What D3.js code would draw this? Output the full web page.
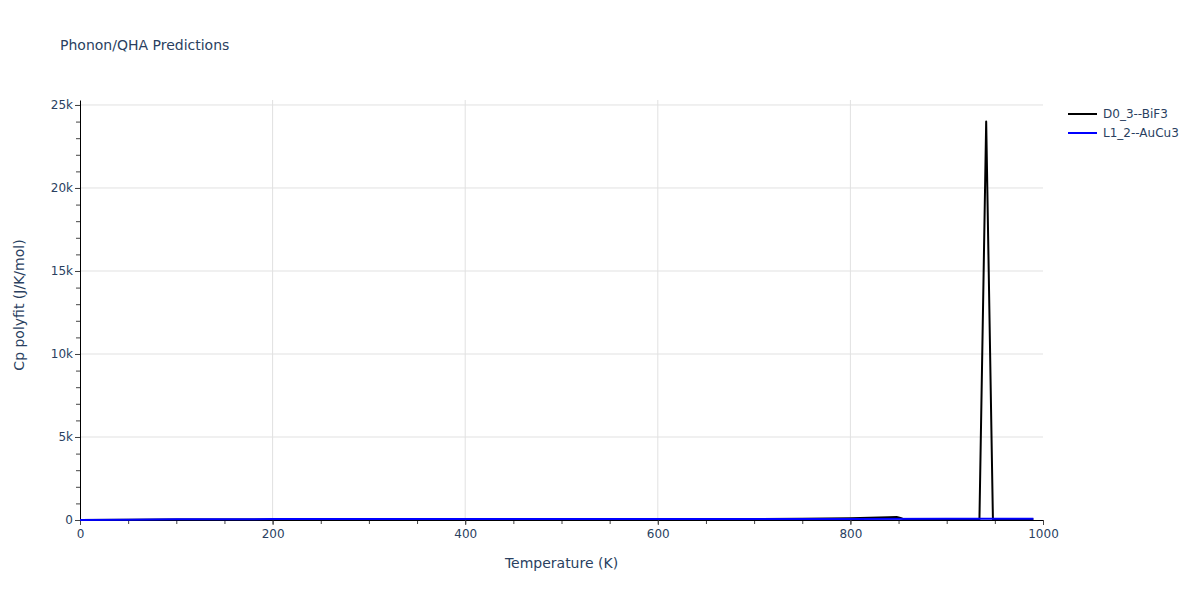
<!DOCTYPE html>
<html>
  <head>
    <meta charset="utf-8" />
    <title>Phonon/QHA Predictions</title>
    <script src="https://d3js.org/d3.v7.min.js"></script>
    <style>
      body {
        margin: 0;
        background: #fff;
      }
      text {
        font-family: "DejaVu Sans", sans-serif;
        fill: #2a3f5f;
      }
    </style>
  </head>
  <body>

    <svg id="chart"></svg>

    <script>

      // temperature grid (K) and Cp values
      var bif3Temp = [0, 50, 100, 200, 300, 400, 500, 600, 700, 750, 800, 820, 840, 848, 852, 856, 900, 934, 941, 948, 990];
      var bif3Cp   = [0, 15, 25, 35, 40, 45, 48, 50, 55, 70, 110, 140, 170, 175, 120, 40, 40, 40, 24000, 40, 40];

      var aucu3Temp = [0, 50, 100, 200, 300, 400, 500, 600, 700, 800, 900, 990];
      var aucu3Cp   = [0, 20, 40, 55, 60, 62, 64, 65, 66, 67, 68, 69];

      var seriesNames  = ["D0_3--BiF3", "L1_2--AuCu3"];
      var seriesColors = ["#000000", "#0000ff"];

      var xTicks = [0, 200, 400, 600, 800, 1000];
      var yTicks = [0, 5000, 10000, 15000, 20000, 25000];

      var width = 1200;
      var height = 600;
      var margin = {
        top: 100,
        right: 157,
        bottom: 80,
        left: 80};
      var chartWidth = width - margin.left - margin.right;
      var chartHeight = height - margin.top - margin.bottom;

      var svg = d3.select("#chart")
        .attr("width", width)
        .attr("height", height);

      var x = d3.scaleLinear()
        .domain([0, 1000])
        .range([margin.left, margin.left + chartWidth]);

      var y = d3.scaleLinear()
        .domain([0, 25300])
        .range([margin.top + chartHeight, margin.top]);

      // grid lines
      svg.append("g")
        .selectAll("line")
        .data(xTicks.filter(function(d) { return d > 0 && d < 1000; }))
        .enter().append("line")
        .attr("x1", function(d) { return x(d); })
        .attr("x2", function(d) { return x(d); })
        .attr("y1", margin.top)
        .attr("y2", margin.top + chartHeight)
        .attr("stroke", "#e1e1e1")
        .attr("stroke-width", 1);

      svg.append("g")
        .selectAll("line")
        .data(yTicks.filter(function(d) { return d > 0; }))
        .enter().append("line")
        .attr("x1", margin.left)
        .attr("x2", margin.left + chartWidth)
        .attr("y1", function(d) { return y(d); })
        .attr("y2", function(d) { return y(d); })
        .attr("stroke", "#e1e1e1")
        .attr("stroke-width", 1);

      // minor ticks
      var xMinor = d3.range(0, 1001, 50);
      var yMinor = d3.range(0, 25001, 1000);

      svg.append("g")
        .attr("transform", "translate(0," + (margin.top + chartHeight) + ")")
        .call(d3.axisBottom(x).tickValues(xMinor).tickSize(4).tickFormat(""))
        .call(function(g) { g.select(".domain").remove(); })
        .selectAll("line").attr("stroke", "#444");

      svg.append("g")
        .attr("transform", "translate(" + margin.left + ",0)")
        .call(d3.axisLeft(y).tickValues(yMinor).tickSize(4).tickFormat(""))
        .call(function(g) { g.select(".domain").remove(); })
        .selectAll("line").attr("stroke", "#444");

      // main axes
      var xAxis = svg.append("g")
        .attr("transform", "translate(0," + (margin.top + chartHeight) + ")")
        .call(d3.axisBottom(x).tickValues(xTicks).tickSize(5).tickSizeOuter(0).tickPadding(4)
          .tickFormat(d3.format("d")));

      var yAxis = svg.append("g")
        .attr("transform", "translate(" + margin.left + ",0)")
        .call(d3.axisLeft(y).tickValues(yTicks).tickSize(5).tickSizeOuter(0).tickPadding(2)
          .tickFormat(function(d) { return d === 0 ? "0" : (d / 1000) + "k"; }));

      [xAxis, yAxis].forEach(function(ax) {
        ax.select(".domain").attr("stroke", "#000").attr("stroke-width", 1);
        ax.selectAll(".tick line").attr("stroke", "#444");
        ax.selectAll(".tick text")
          .style("font-family", "'DejaVu Sans', sans-serif")
          .style("font-size", "12px")
          .attr("fill", "#2a3f5f");
      });

      // lines
      var line = d3.line()
        .x(function(d) { return x(d[0]); })
        .y(function(d) { return y(d[1]); });

      var series = [
        d3.zip(bif3Temp, bif3Cp),
        d3.zip(aucu3Temp, aucu3Cp)
      ];

      svg.append("g")
        .selectAll("path")
        .data(series)
        .enter().append("path")
        .attr("d", line)
        .attr("fill", "none")
        .attr("stroke", function(d, i) { return seriesColors[i]; })
        .attr("stroke-width", 2)
        .attr("stroke-linejoin", "round");

      // title and axis labels
      svg.append("text")
        .attr("x", 60)
        .attr("y", 50)
        .style("font-size", "14px")
        .text("Phonon/QHA Predictions");

      svg.append("text")
        .attr("x", margin.left + chartWidth / 2)
        .attr("y", 568)
        .attr("text-anchor", "middle")
        .style("font-size", "14px")
        .text("Temperature (K)");

      svg.append("text")
        .attr("transform", "translate(24," + (margin.top + chartHeight / 2 - 5) + ") rotate(-90)")
        .attr("text-anchor", "middle")
        .style("font-size", "14px")
        .text("Cp polyfit (J/K/mol)");

      // legend
      var legend = svg.append("g")
        .selectAll("g")
        .data(seriesNames)
        .enter().append("g")
        .attr("transform", function(d, i) { return "translate(1068," + (114 + i * 19) + ")"; });

      legend.append("line")
        .attr("x1", 0)
        .attr("x2", 29)
        .attr("stroke", function(d, i) { return seriesColors[i]; })
        .attr("stroke-width", 2);

      legend.append("text")
        .attr("x", 35)
        .attr("dy", "0.35em")
        .style("font-size", "12px")
        .text(function(d) { return d; });

    </script>
  </body>
</html>
